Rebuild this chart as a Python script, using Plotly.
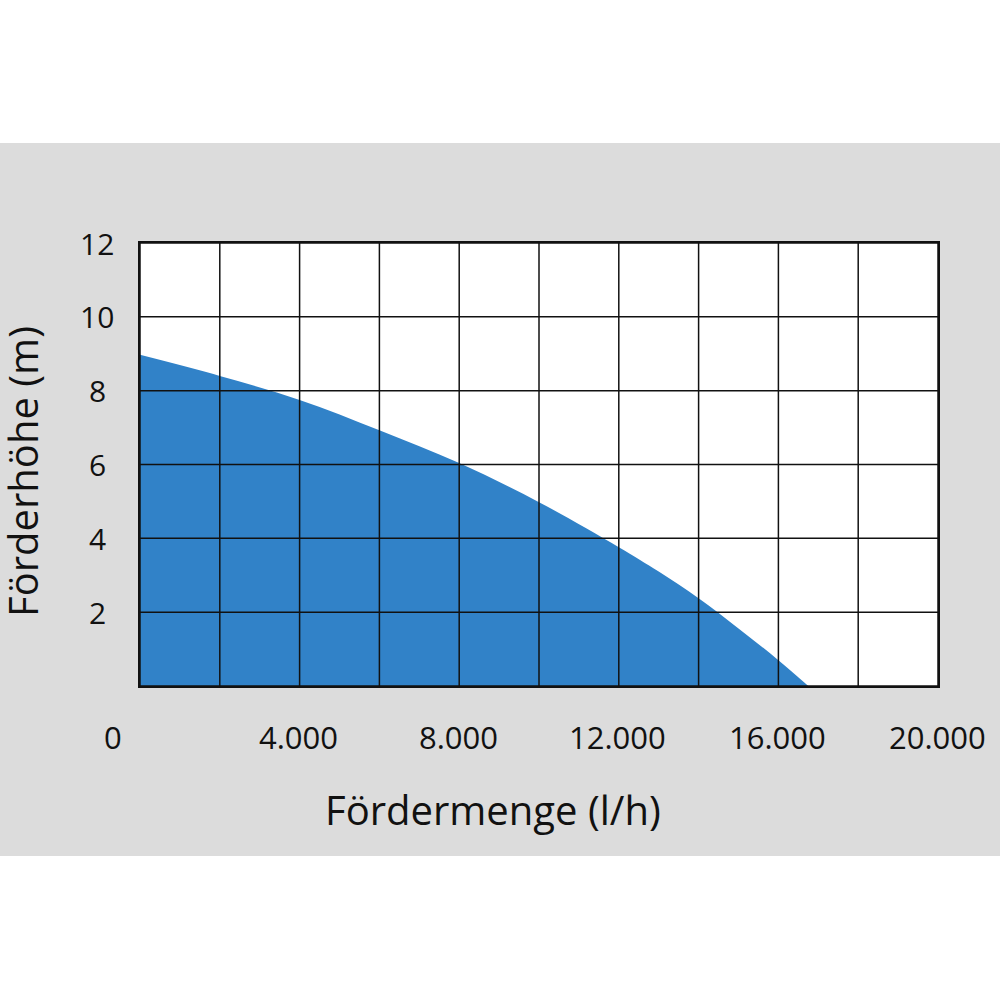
import plotly.graph_objects as go

# Data
flow = [0, 2000, 4000, 6000, 8000, 10000, 12000, 13000, 14000, 15000, 16000, 16750]
head = [8.97, 8.40, 7.75, 6.93, 6.04, 4.98, 3.76, 3.10, 2.38, 1.56, 0.70, 0.0]

x_grid = [0, 2000, 4000, 6000, 8000, 10000, 12000, 14000, 16000, 18000, 20000]
y_grid = [0, 2, 4, 6, 8, 10, 12]

x_tick_vals = [0, 4000, 8000, 12000, 16000, 20000]
x_tick_text = ["0", "4.000", "8.000", "12.000", "16.000", "20.000"]
y_tick_vals = [2, 4, 6, 8, 10, 12]
y_tick_text = ["2", "4", "6", "8", "10", "12"]

x_title = "Fördermenge (l/h)"
y_title = "Förderhöhe (m)"

FONT = "Open Sans"
BLUE = "#3182c8"
GRAY = "#dcdcdc"
INK = "#111111"

fig = go.Figure()
fig.add_trace(go.Scatter(
    x=flow, y=head, mode="lines", line=dict(width=0, shape="spline", smoothing=1.0),
    fill="tozeroy", fillcolor=BLUE, hoverinfo="skip", showlegend=False,
))

shapes = []
# gray band behind the chart
shapes.append(dict(type="rect", xref="paper", yref="paper",
                   x0=-140/798, x1=862/798, y0=(686-856)/443, y1=(686-143)/443,
                   fillcolor=GRAY, line=dict(width=0), layer="below"))
# white plotting area
shapes.append(dict(type="rect", xref="paper", yref="paper", x0=0, x1=1, y0=0, y1=1,
                   fillcolor="white", line=dict(width=0), layer="below"))
for gx in x_grid:
    shapes.append(dict(type="line", xref="x", yref="y", x0=gx, x1=gx, y0=0, y1=12,
                       line=dict(color=INK, width=1.5), layer="above"))
for gy in y_grid:
    shapes.append(dict(type="line", xref="x", yref="y", x0=0, x1=20000, y0=gy, y1=gy,
                       line=dict(color=INK, width=1.5), layer="above"))

annotations = []
for v, t in zip(x_tick_vals, x_tick_text):
    annotations.append(dict(x=v, xref="x", y=0, yref="paper", text=t, showarrow=False,
                            xanchor="center", yanchor="middle", yshift=-51,
                            xshift=-27 if v == 0 else -1,
                            font=dict(family=FONT, size=31, color=INK)))
for v, t in zip(y_tick_vals, y_tick_text):
    annotations.append(dict(x=0, xref="paper", y=v, yref="y", text=t, showarrow=False,
                            xanchor="center", yanchor="middle", xshift=-43,
                            font=dict(family=FONT, size=30, color=INK)))
annotations.append(dict(x=(493-140)/798, xref="paper", y=0, yref="paper", text=x_title,
                        showarrow=False, xanchor="center", yanchor="middle", yshift=-123,
                        font=dict(family=FONT, size=40, color=INK)))
annotations.append(dict(x=0, xref="paper", y=(686-472)/443, yref="paper", text=y_title,
                        showarrow=False, xanchor="center", yanchor="middle", xshift=-118,
                        textangle=-90, borderpad=0,
                        font=dict(family=FONT, size=40, color=INK)))

axis_common = dict(showgrid=False, zeroline=False, showticklabels=False, ticks="",
                   showline=True, mirror=True, linecolor=INK, linewidth=2,
                   layer="above traces", fixedrange=True)

fig.update_layout(
    width=1000, height=1000,
    margin=dict(l=140, r=62, t=243, b=314, pad=0),
    paper_bgcolor="white", plot_bgcolor="white",
    xaxis=dict(range=[0, 20000], **axis_common),
    yaxis=dict(range=[0, 12], **axis_common),
    shapes=shapes, annotations=annotations,
    font=dict(family=FONT),
    showlegend=False,
)

fig.write_html("out.html", config={"displayModeBar": False},
               post_script="document.body.style.margin='0';document.body.style.padding='0';")
